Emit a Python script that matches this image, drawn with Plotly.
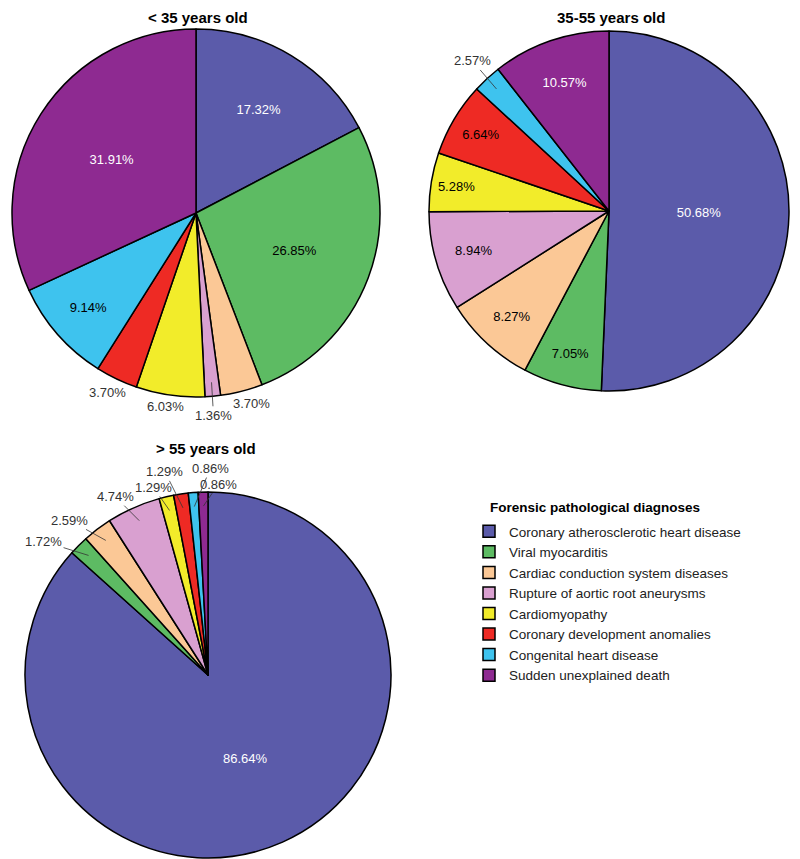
import math
import plotly.graph_objects as go

W, H = 800, 859

labels = ["Coronary atherosclerotic heart disease", "Viral myocarditis",
          "Cardiac conduction system diseases", "Rupture of aortic root aneurysms",
          "Cardiomyopathy", "Coronary development anomalies",
          "Congenital heart disease", "Sudden unexplained death"]
colors = ["#5B5BAA", "#5DBB63", "#FBC896", "#D9A0D0",
          "#F2EC2A", "#EE2A24", "#3EC3EE", "#8E2A91"]

under35 = [17.32, 26.85, 3.70, 1.36, 6.03, 3.70, 9.14, 31.91]
mid35_55 = [50.68, 7.05, 8.27, 8.94, 5.28, 6.64, 2.57, 10.57]
over55 = [86.64, 1.72, 2.59, 4.74, 1.29, 1.29, 0.86, 0.86]

titles = ["&lt; 35 years old", "35-55 years old", "&gt; 55 years old"]

txtcol = ["white", "black", "black", "black", "black", "black", "black", "white"]

# pie centre / radius in pixels
geo = [(188, 205, 184), (601, 203, 180), (200, 667, 183)]
title_pos = [(190, 9), (603, 9), (198, 440)]

# outside labels: slice index, arrow?, dx, dy (text offset in px)
outside = [
    [(2, False, 10, 12), (3, True, 2, 33), (4, False, -5, 11), (5, False, -9, 14)],
    [(6, True, -24, -28)],
    [(1, True, -45, -14), (2, True, -36, -20), (3, True, -24, -24), (4, True, -16, -23),
     (5, True, -18, -36), (6, True, 16, -38), (7, True, 15, -22)],
]


def px(x, y):
    return x / W, 1 - y / H


def slice_pt(vals, i, cx, cy, rho):
    tot = sum(vals)
    a = (sum(vals[:i]) + vals[i] / 2) / tot * 2 * math.pi
    return cx + rho * math.sin(a), cy - rho * math.cos(a)


fig = go.Figure()
annotations = []
for k, vals in enumerate([under35, mid35_55, over55]):
    cx, cy, r = geo[k]
    outs = {o[0] for o in outside[k]}
    pos = ["none" if i in outs else "inside" for i in range(len(vals))]
    fig.add_trace(go.Pie(
        labels=labels, values=vals, sort=False, direction="clockwise", rotation=0,
        marker=dict(colors=colors, line=dict(color="black", width=1.5)),
        texttemplate="%{value:.2f}%", textinfo="text", textposition=pos,
        insidetextorientation="horizontal",
        insidetextfont=dict(color=txtcol, size=13),
        domain=dict(x=[(cx - r) / W, (cx + r) / W], y=[1 - (cy + r) / H, 1 - (cy - r) / H]),
        showlegend=(k == 0), hoverinfo="label+percent",
    ))
    tx, ty = px(*title_pos[k])
    annotations.append(dict(text="<b>" + titles[k] + "</b>", x=tx, y=ty, xref="paper", yref="paper",
                            xanchor="center", yanchor="middle",
                            showarrow=False, font=dict(size=15, color="black")))
    for i, arrow, dx, dy in outside[k]:
        txt = f"{vals[i]:.2f}%"
        if arrow:
            ax_, ay_ = slice_pt(vals, i, cx, cy, r - 14)
            x, y = px(ax_, ay_)
            annotations.append(dict(text=txt, x=x, y=y, xref="paper", yref="paper",
                                    xanchor="center", yanchor="middle",
                                    showarrow=True, ax=dx, ay=dy, arrowhead=0,
                                    arrowwidth=0.8, arrowcolor="#333", standoff=0,
                                    font=dict(size=13, color="#333")))
        else:
            ex, ey = slice_pt(vals, i, cx, cy, r)
            x, y = px(ex + dx, ey + dy)
            annotations.append(dict(text=txt, x=x, y=y, xref="paper", yref="paper",
                                    xanchor="center", yanchor="middle",
                                    showarrow=False, font=dict(size=13, color="#333")))

lx, ly = px(480, 499)
annotations.append(dict(text="<b>Forensic pathological diagnoses</b>", x=lx, y=ly,
                        xref="paper", yref="paper", xanchor="left", yanchor="middle",
                        showarrow=False, font=dict(size=13.5, color="black")))

fig.update_layout(
    width=W, height=H, margin=dict(l=0, r=0, t=0, b=0),
    paper_bgcolor="white", plot_bgcolor="white",
    font=dict(family="Liberation Sans, Arial", size=13, color="#222"),
    annotations=annotations,
    legend=dict(x=461 / W, y=1 - 508 / H, xanchor="left", yanchor="top",
                font=dict(size=13.5)),
)

fig.write_html("out.html")
